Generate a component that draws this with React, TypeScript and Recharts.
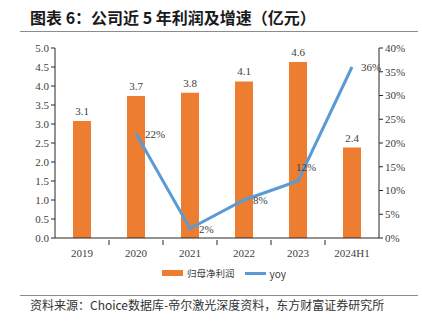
import { ComposedChart, Bar, Line, XAxis, YAxis, LabelList } from "recharts";

const categories = ["2019", "2020", "2021", "2022", "2023", "2024H1"];
const profit = [3.08, 3.74, 3.82, 4.12, 4.63, 2.38];
const yoy = [null, 0.22, 0.02, 0.08, 0.12, 0.36];
const leftTicks = [0, 0.5, 1, 1.5, 2, 2.5, 3, 3.5, 4, 4.5, 5];
const rightTicks = [0, 0.05, 0.1, 0.15, 0.2, 0.25, 0.3, 0.35, 0.4];

const data = categories.map((name, i) => ({ name, profit: profit[i], yoy: yoy[i] }));

const serif = "'Liberation Serif', 'Times New Roman', serif";
const cjk = "'Noto Sans CJK SC', sans-serif";
const textColor = "#404040";
const axisColor = "#262626";

// x axis tick: label at category centre, tick mark on category boundary (Excel style)
const XTick = ({ x, y, payload, index }: any) => (
  <g>
    {index > 0 && <line x1={x - 27} y1={y} x2={x - 27} y2={y + 5} stroke={axisColor} />}
    <text x={x} y={y + 17} textAnchor="middle" fontSize={11} fontFamily={serif} fill={textColor}>
      {payload.value}
    </text>
  </g>
);

// yoy labels: right of the point, except 2023 which sits above
const YoyLabel = ({ x, y, value, index }: any) => {
  if (value == null) return null;
  const above = index === 4;
  return (
    <text
      x={above ? x + 8 : x + 9}
      y={above ? y - 10 : y + 4}
      textAnchor={above ? "middle" : "start"}
      fontSize={11}
      fontFamily={serif}
      fill={textColor}
    >
      {`${Math.round(value * 100)}%`}
    </text>
  );
};

export default function App() {
  return (
    <div style={{ position: "absolute", left: 0, top: 0, width: 422, height: 324, background: "#fff" }}>
      <div
        style={{
          position: "absolute",
          left: 30,
          top: 6,
          fontFamily: cjk,
          fontWeight: 700,
          fontSize: 16,
          lineHeight: "22px",
          color: "#1a1a1a",
          whiteSpace: "nowrap",
        }}
      >
        图表 6：公司近 5 年利润及增速（亿元）
      </div>
      <div style={{ position: "absolute", left: 20, top: 31, width: 398, height: 0, borderTop: "1.5px solid #8c8c8c" }} />

      <div style={{ position: "absolute", left: 0, top: 0 }}>
        <ComposedChart width={422} height={262} data={data} margin={{ top: 48, right: 0, bottom: 0, left: 10 }}>
          <XAxis
            dataKey="name"
            tickLine={false}
            tickSize={0}
            height={24}
            stroke={axisColor}
            tick={<XTick />}
            interval={0}
          />
          <YAxis
            yAxisId="left"
            domain={[0, 5]}
            ticks={leftTicks}
            width={45}
            tickSize={4}
            stroke={axisColor}
            tick={{ fontSize: 11, fontFamily: serif, fill: textColor }}
            tickFormatter={(v: number) => v.toFixed(1)}
          />
          <YAxis
            yAxisId="right"
            orientation="right"
            domain={[0, 0.4]}
            ticks={rightTicks}
            width={43}
            tickSize={4}
            stroke={axisColor}
            tick={{ fontSize: 11, fontFamily: serif, fill: textColor }}
            tickFormatter={(v: number) => `${Math.round(v * 100)}%`}
          />
          <Bar yAxisId="left" dataKey="profit" fill="#ED7D31" barSize={18} isAnimationActive={false}>
            <LabelList
              dataKey="profit"
              position="top"
              offset={6}
              formatter={(v: any) => Number(v).toFixed(1)}
              style={{ fontSize: 11, fontFamily: serif, fill: textColor }}
            />
          </Bar>
          <Line
            yAxisId="right"
            dataKey="yoy"
            stroke="#5B9BD5"
            strokeWidth={3}
            dot={false}
            isAnimationActive={false}
          >
            <LabelList dataKey="yoy" content={<YoyLabel />} />
          </Line>
        </ComposedChart>
      </div>

      {/* legend */}
      <div
        style={{
          position: "absolute",
          left: 162,
          top: 265,
          display: "flex",
          alignItems: "center",
          height: 16,
          whiteSpace: "nowrap",
        }}
      >
        <span style={{ display: "inline-block", width: 21, height: 6, background: "#ED7D31" }} />
        <span style={{ marginLeft: 4, fontFamily: cjk, fontSize: 9.5, color: textColor }}>归母净利润</span>
        <span style={{ display: "inline-block", width: 21, height: 3, background: "#5B9BD5", marginLeft: 10 }} />
        <span style={{ marginLeft: 4, fontFamily: cjk, fontSize: 10, color: textColor }}>yoy</span>
      </div>

      <div style={{ position: "absolute", left: 20, top: 295, width: 398, height: 0, borderTop: "1.5px solid #8c8c8c" }} />
      <div
        style={{
          position: "absolute",
          left: 30,
          top: 297,
          fontFamily: cjk,
          fontSize: 12,
          lineHeight: "16px",
          color: "#333",
          whiteSpace: "nowrap",
        }}
      >
        资料来源：Choice数据库-帝尔激光深度资料，东方财富证券研究所
      </div>
    </div>
  );
}
